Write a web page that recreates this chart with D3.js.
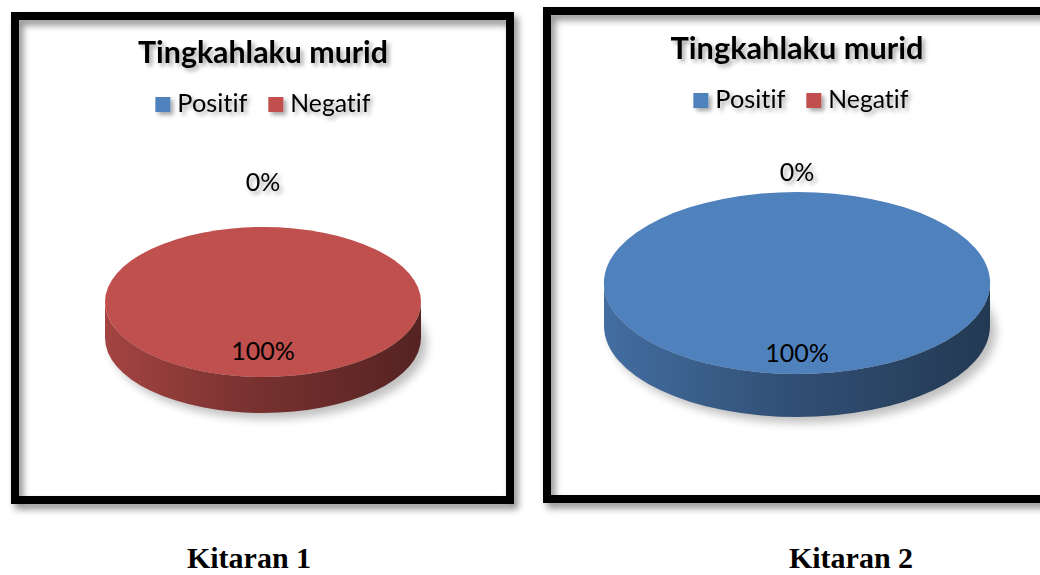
<!DOCTYPE html>
<html lang="ms">
<head>
    <meta charset="UTF-8">
    <script src="https://d3js.org/d3.v7.min.js"></script>
    <style>
        body { margin: 0; background: #fff; }
        text { font-family: Lato, "Open Sans", sans-serif; font-variant-ligatures: none; }
    </style>
</head>
<body>
    <svg id="chart" width="1040" height="575"></svg>
    <script>
        // Data
        const categories = ["Positif", "Negatif"];
        const colors = ["#4F81BD", "#C0504D"];
        const chartTitle = "Tingkahlaku murid";
        const kitaranLabels = ["Kitaran 1", "Kitaran 2"];
        const kitaran1 = [0, 100];
        const kitaran2 = [100, 0];
        const seriesValues = [kitaran1, kitaran2];

        // Layout of each panel (frame, pie ellipse, text positions)
        const panels = [
            { frame: [15, 16, 510, 500], cx: 263, cy: 302, rx: 158, ry: 75, depth: 36,
              titleY: 63, titleW: 250, legendY: 112, legendCx: 263, caption: [249, 568],
              outR: 1.62, inR: 0.64 },
            { frame: [547, 11, 1050, 499], cx: 797, cy: 283, rx: 193, ry: 91, depth: 43,
              titleY: 59, titleW: 253, legendY: 108, legendCx: 801, caption: [851, 568],
              outR: 1.23, inR: 0.76 }
        ];

        const svg = d3.select("#chart");
        const defs = svg.append("defs");

        // bayang bingkai
        defs.append("filter").attr("id", "frameShadow")
            .attr("x", "-5%").attr("y", "-5%").attr("width", "115%").attr("height", "115%")
            .append("feDropShadow")
            .attr("dx", 4).attr("dy", 5).attr("stdDeviation", 3.5)
            .attr("flood-color", "#000").attr("flood-opacity", 0.45);

        // bayang teks
        defs.append("filter").attr("id", "textShadow")
            .attr("x", "-20%").attr("y", "-40%").attr("width", "150%").attr("height", "200%")
            .append("feDropShadow")
            .attr("dx", 3).attr("dy", 3).attr("stdDeviation", 2)
            .attr("flood-color", "#000").attr("flood-opacity", 0.35);

        defs.append("filter").attr("id", "pieShadow")
            .attr("x", "-20%").attr("y", "-20%").attr("width", "140%").attr("height", "160%")
            .append("feGaussianBlur").attr("stdDeviation", 5);

        const pie = d3.pie().sort(null).value(d => d);

        // fit text width to target
        function fitText(sel, target) {
            const w = sel.node().getComputedTextLength();
            const fs = parseFloat(sel.style("font-size"));
            sel.style("font-size", (fs * target / w) + "px");
        }

        panels.forEach((p, i) => {
            const g = svg.append("g");
            const [x0, y0, x1, y1] = p.frame;

            // frame
            g.append("rect")
                .attr("x", x0).attr("y", y0)
                .attr("width", x1 - x0).attr("height", y1 - y0)
                .attr("fill", "none")
                .attr("stroke", "#000").attr("stroke-width", 8)
                .attr("filter", "url(#frameShadow)");

            // title
            const title = g.append("text")
                .attr("x", p.cx).attr("y", p.titleY)
                .attr("text-anchor", "middle")
                .style("font-size", "28px").style("font-weight", "bold")
                .attr("fill", "#000")
                .attr("filter", "url(#textShadow)")
                .text(chartTitle);
            fitText(title, p.titleW);

            // legend
            const leg = g.append("g").attr("filter", "url(#textShadow)");
            let lx = 0;
            categories.forEach((c, k) => {
                leg.append("rect")
                    .attr("x", lx).attr("y", p.legendY - 15)
                    .attr("width", 15).attr("height", 15)
                    .attr("fill", colors[k]);
                const t = leg.append("text")
                    .attr("x", lx + 22).attr("y", p.legendY)
                    .style("font-size", "24px")
                    .attr("fill", "#000")
                    .text(c);
                fitText(t, k === 0 ? 70 : 80);
                lx += 22 + t.node().getComputedTextLength() + 21;
            });
            const lw = leg.node().getBBox().width;
            leg.attr("transform", `translate(${p.legendCx - lw / 2},0)`);

            // 3D pie
            const arcs = pie(seriesValues[i]);
            const pt = (a, dy = 0) => [p.cx + p.rx * Math.sin(a), p.cy - p.ry * Math.cos(a) + dy];

            // shadow under pie
            g.append("ellipse")
                .attr("cx", p.cx + 6).attr("cy", p.cy + p.depth + 6)
                .attr("rx", p.rx).attr("ry", p.ry)
                .attr("fill", "#000").attr("opacity", 0.25)
                .attr("filter", "url(#pieShadow)");

            arcs.forEach((d, k) => {
                if (d.endAngle - d.startAngle <= 0) return;
                const base = d3.color(colors[k]);
                const gid = `side${i}_${k}`;
                const grad = defs.append("linearGradient").attr("id", gid)
                    .attr("gradientUnits", "userSpaceOnUse")
                    .attr("x1", p.cx - p.rx).attr("x2", p.cx + p.rx)
                    .attr("y1", 0).attr("y2", 0);
                grad.append("stop").attr("offset", "0%").attr("stop-color", base.darker(0.45));
                grad.append("stop").attr("offset", "45%").attr("stop-color", base.darker(1.3));
                grad.append("stop").attr("offset", "100%").attr("stop-color", base.darker(2.3));

                // side (front half only)
                const a0 = Math.max(d.startAngle, Math.PI / 2);
                const a1 = Math.min(d.endAngle, 3 * Math.PI / 2);
                if (a1 > a0) {
                    const s0 = pt(a0), s1 = pt(a1);
                    const b0 = pt(a0, p.depth), b1 = pt(a1, p.depth);
                    g.append("path")
                        .attr("d", `M${s0}A${p.rx},${p.ry} 0 0 1 ${s1}L${b1}A${p.rx},${p.ry} 0 0 0 ${b0}Z`)
                        .attr("fill", `url(#${gid})`);
                }

                // top face
                let dTop;
                if (d.endAngle - d.startAngle >= 2 * Math.PI - 1e-6) {
                    const t0 = pt(0), t1 = pt(Math.PI);
                    dTop = `M${t0}A${p.rx},${p.ry} 0 1 1 ${t1}A${p.rx},${p.ry} 0 1 1 ${t0}Z`;
                } else {
                    const large = d.endAngle - d.startAngle > Math.PI ? 1 : 0;
                    dTop = `M${p.cx},${p.cy}L${pt(d.startAngle)}A${p.rx},${p.ry} 0 ${large} 1 ${pt(d.endAngle)}Z`;
                }
                g.append("path").attr("d", dTop).attr("fill", colors[k]);
            });

            // data labels
            arcs.forEach(d => {
                const mid = (d.startAngle + d.endAngle) / 2;
                const full = d.endAngle - d.startAngle >= 2 * Math.PI - 1e-6;
                const r = d.value === 0 ? p.outR : (full ? p.inR : 0.6);
                const [lx2, ly2] = [p.cx + p.rx * r * Math.sin(mid), p.cy - p.ry * r * Math.cos(mid)];
                const total = d3.sum(seriesValues[i]);
                g.append("text")
                    .attr("x", lx2).attr("y", ly2)
                    .attr("text-anchor", "middle")
                    .attr("dominant-baseline", "central")
                    .style("font-size", "25px")
                    .attr("fill", "#000")
                    .attr("filter", d.value === 0 ? "url(#textShadow)" : null)
                    .text(Math.round(d.value / total * 100) + "%");
            });

            // caption below
            svg.append("text")
                .attr("x", p.caption[0]).attr("y", p.caption[1])
                .attr("text-anchor", "middle")
                .style("font-family", "'Liberation Serif', 'Times New Roman', serif")
                .style("font-size", "30px").style("font-weight", "bold")
                .text(kitaranLabels[i]);
        });
    </script>
</body>
</html>
